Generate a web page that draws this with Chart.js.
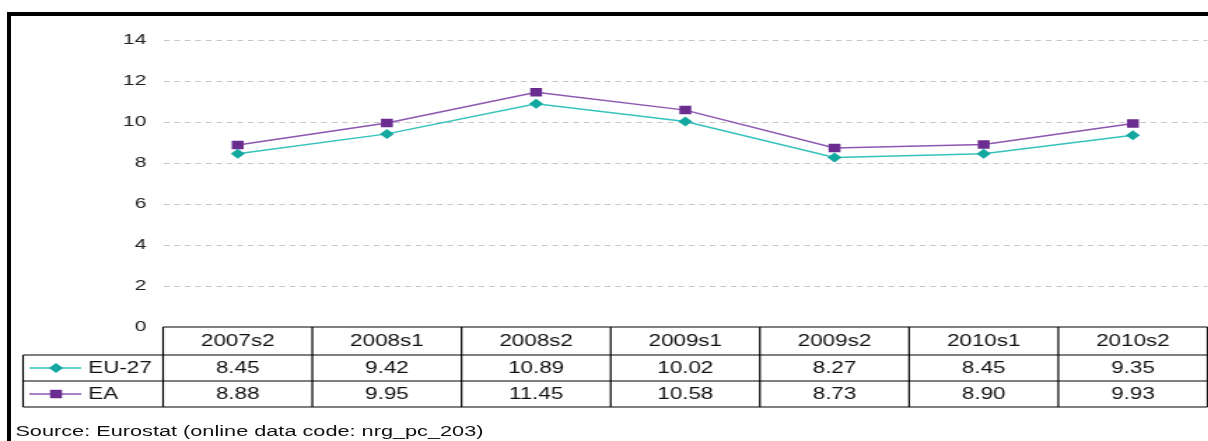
<!DOCTYPE html>
<html>
<head>
<meta charset="utf-8">
<script src="https://cdn.jsdelivr.net/npm/chart.js@4/dist/chart.umd.min.js"></script>
<style>
  body { margin: 0; background: #fff; }
  #wrap { position: relative; width: 1208px; height: 441px; overflow: hidden; }
  /* the original picture is stretched sideways, so the chart is drawn narrow and widened */
  #stretch { position: absolute; left: 0; top: 0; width: 863px; height: 441px; transform: scaleX(1.4); transform-origin: 0 0; }
  #chart { display: block; }
  #frame { position: absolute; left: 7px; top: 12px; width: 1300px; height: 500px; border-left: 4px solid #000; border-top: 4px solid #000; }
  #source { position: absolute; left: 11px; top: 422px; font: 15.5px "Liberation Sans", Arial, sans-serif; color: #111; white-space: nowrap; }
</style>
</head>
<body>
<div id="wrap">
  <div id="stretch">
    <canvas id="chart" width="863" height="441"></canvas>
    <div id="source">Source: Eurostat (online data code: nrg_pc_203)</div>
  </div>
  <div id="frame"></div>
</div>
<script>
var categories = ['2007s2', '2008s1', '2008s2', '2009s1', '2009s2', '2010s1', '2010s2'];
var eu27 = [8.45, 9.42, 10.89, 10.02, 8.27, 8.45, 9.35];
var ea = [8.88, 9.95, 11.45, 10.58, 8.73, 8.90, 9.93];
var yMin = 0, yMax = 14, yStep = 2;

var font = '"Liberation Sans", Arial, sans-serif';

// draws the data table under the plot, columns taken from the x scale
var tablePlugin = {
    id: 'dataTable',
    afterDraw: function(chart) {
        var ctx = chart.ctx;
        var x = chart.scales.x;
        var y = chart.scales.y;
        var n = categories.length;
        var top = y.getPixelForValue(0);
        var rows = [top, top + 28, top + 54, top + 80];
        var legendLeft = 16.5;
        var left = x.getPixelForValue(-0.5);
        var right = x.getPixelForValue(n - 0.5);

        ctx.save();
        ctx.strokeStyle = '#000';
        ctx.lineWidth = 1.2;
        ctx.beginPath();
        ctx.moveTo(left, rows[0]); ctx.lineTo(right, rows[0]);
        for (var r = 1; r < rows.length; r++) {
            ctx.moveTo(legendLeft, rows[r]); ctx.lineTo(right, rows[r]);
        }
        for (var i = 0; i <= n; i++) {
            var xi = x.getPixelForValue(i - 0.5);
            ctx.moveTo(xi, rows[0]); ctx.lineTo(xi, rows[3]);
        }
        ctx.moveTo(legendLeft, rows[1]); ctx.lineTo(legendLeft, rows[3]);
        ctx.stroke();

        ctx.fillStyle = '#111';
        ctx.font = '16px ' + font;
        ctx.textAlign = 'center';
        ctx.textBaseline = 'middle';
        for (var c = 0; c < n; c++) {
            ctx.fillText(categories[c], x.getPixelForValue(c), (rows[0] + rows[1]) / 2 + 1);
        }

        chart.data.datasets.forEach(function(ds, d) {
            var cy = (rows[d + 1] + rows[d + 2]) / 2 + 1;
            ctx.fillStyle = '#111';
            ctx.textAlign = 'center';
            for (var c = 0; c < n; c++) {
                ctx.fillText(ds.data[c].toFixed(2), x.getPixelForValue(c), cy);
            }
            // legend key in first cell
            ctx.strokeStyle = ds.borderColor;
            ctx.lineWidth = 1.5;
            ctx.beginPath();
            ctx.moveTo(21, cy - 1); ctx.lineTo(58, cy - 1);
            ctx.stroke();
            ctx.fillStyle = ds.pointBackgroundColor;
            Chart.helpers.drawPoint(ctx, {pointStyle: ds.pointStyle, radius: ds.pointRadius, borderWidth: 0, rotation: 0}, 40, cy - 1);
            ctx.fillStyle = '#111';
            ctx.textAlign = 'left';
            ctx.fillText(ds.label, 63, cy);
        });
        ctx.restore();
    }
};

var chart = new Chart(document.getElementById('chart').getContext('2d'), {
    type: 'line',
    data: {
        labels: categories,
        datasets: [{
            label: 'EU-27',
            data: eu27,
            borderColor: '#35c2bd',
            borderWidth: 1.5,
            pointStyle: 'rectRot',
            pointRadius: 5,
            pointBorderWidth: 0,
            pointBackgroundColor: '#12a79f',
            tension: 0
        }, {
            label: 'EA',
            data: ea,
            borderColor: '#8d56b0',
            borderWidth: 1.5,
            pointStyle: 'rect',
            pointRadius: 6,
            pointBorderWidth: 0,
            pointBackgroundColor: '#6a2c8e',
            tension: 0
        }]
    },
    options: {
        responsive: false,
        animation: false,
        layout: { autoPadding: false, padding: { top: 40, bottom: 114, left: 0, right: 0.5 } },
        plugins: { legend: { display: false }, tooltip: { enabled: false } },
        scales: {
            x: { display: false, offset: true },
            y: {
                min: yMin,
                max: yMax,
                ticks: { stepSize: yStep, padding: 12, color: '#222', font: { family: font, size: 15 } },
                border: { display: false, dash: [4, 3.5] },
                grid: {
                    drawTicks: false,
                    lineWidth: 1,
                    color: function(c) { return c.tick && c.tick.value === 0 ? 'rgba(0,0,0,0)' : '#c6c6c6'; }
                },
                afterFit: function(scale) { scale.width = 116.5; }
            }
        }
    },
    plugins: [tablePlugin]
});
</script>
</body>
</html>
